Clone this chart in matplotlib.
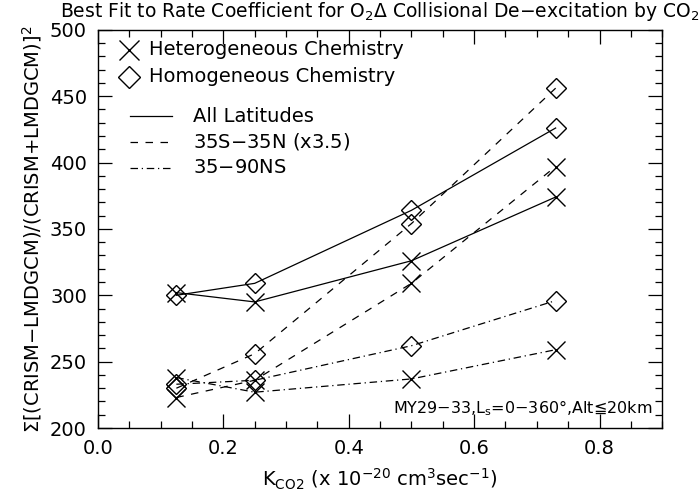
import matplotlib
matplotlib.use("Agg")
import matplotlib.pyplot as plt
from matplotlib.ticker import MultipleLocator

plt.rcParams['font.family'] = ['DejaVu Sans', 'Noto Sans CJK SC']

# rate coefficient values
k_co2 = [0.125, 0.25, 0.5, 0.73]

# All latitudes
all_het = [302, 295, 326, 374]
all_hom = [300, 309, 364, 426]
# 35S-35N (x3.5)
trop_het = [223, 236, 309, 397]
trop_hom = [230, 256, 354, 456]
# 35-90NS
high_het = [238, 227, 237, 259]
high_hom = [233, 236, 262, 296]

fig = plt.figure(figsize=(7, 4.96), dpi=100)
ax = fig.add_axes([0.14, 0.137, 0.806, 0.803])

lw = 0.9
ms_x = 13.5
ms_d = 10
dashed = (0, (6, 6))
dashdot = (0, (6, 3, 1, 3))

series = [
    (all_het, 'x', ms_x, '-'),
    (all_hom, 'D', ms_d, '-'),
    (trop_het, 'x', ms_x, dashed),
    (trop_hom, 'D', ms_d, dashed),
    (high_het, 'x', ms_x, dashdot),
    (high_hom, 'D', ms_d, dashdot),
]
for vals, mk, ms, ls in series:
    ax.plot(k_co2, vals, color='black', lw=lw, linestyle=ls, marker=mk,
            markersize=ms, markerfacecolor='none', markeredgecolor='black',
            markeredgewidth=1.0)

ax.set_xlim(0, 0.9)
ax.set_ylim(200, 500)
ax.xaxis.set_minor_locator(MultipleLocator(0.05))
ax.yaxis.set_major_locator(MultipleLocator(50))
ax.yaxis.set_minor_locator(MultipleLocator(10))
ax.set_xticks([0.0, 0.2, 0.4, 0.6, 0.8])
ax.set_xticklabels(['0.0', '0.2', '0.4', '0.6', '0.8'])
ax.tick_params(which='both', direction='in', top=True, right=True,
               labelsize=14, width=0.9, pad=8)
ax.tick_params(which='major', length=10)
ax.tick_params(which='minor', length=5)
for s in ax.spines.values():
    s.set_linewidth(1.0)

ax.set_xlabel(r'K$_{\mathrm{CO2}}$ (x 10$^{-20}$ cm$^{3}$sec$^{-1}$)', fontsize=14, labelpad=6)
ax.set_ylabel(r'$\Sigma$[(CRISM$-$LMDGCM)/(CRISM+LMDGCM)]$^{2}$', fontsize=14, labelpad=4)
ax.set_title(r'Best Fit to Rate Coefficient for O$_2\Delta$ Collisional De$-$excitation by CO$_2$',
             fontsize=13.5, pad=9)

# legend drawn by hand
ax.plot([0.049], [485], marker='x', ms=15, mew=1.0, color='black')
ax.text(0.082, 485, 'Heterogeneous Chemistry', fontsize=14, va='center')
ax.plot([0.049], [464.5], marker='D', ms=11, mew=1.0, mfc='none', color='black')
ax.text(0.082, 464.5, 'Homogeneous Chemistry', fontsize=14, va='center')
ax.plot([0.051, 0.118], [435, 435], color='black', lw=lw, ls='-')
ax.text(0.152, 435, 'All Latitudes', fontsize=14, va='center')
ax.plot([0.051, 0.118], [415.5, 415.5], color='black', lw=lw, ls=dashed)
ax.text(0.152, 415.5, '35S$-$35N (x3.5)', fontsize=14, va='center')
ax.plot([0.051, 0.118], [396, 396], color='black', lw=lw, ls=dashdot)
ax.text(0.152, 396, '35$-$90NS', fontsize=14, va='center')

ax.text(0.885, 215, r'MY29$-$33,L$_{\mathrm{s}}$=0$-$360°,Alt≦20km', fontsize=11.5,
        ha='right', va='center')

fig.savefig('out.png', dpi=100)
